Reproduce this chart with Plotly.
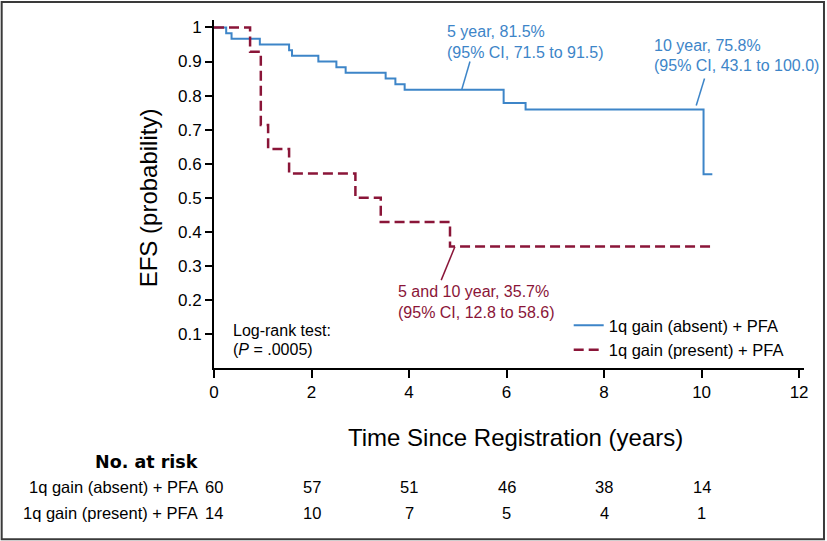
import plotly.graph_objects as go

# ---------------- data ----------------
time_absent = [0, 0.25, 0.36, 0.94, 1.54, 1.60, 2.14, 2.51, 2.70, 3.52, 3.72, 3.91, 5.94, 6.39, 10.04, 10.22]
efs_absent = [1.0, 0.983, 0.967, 0.950, 0.933, 0.917, 0.900, 0.883, 0.867, 0.850, 0.833, 0.817, 0.778, 0.759, 0.569, 0.569]

time_present = [0, 0.74, 0.96, 1.11, 1.54, 2.90, 3.42, 4.84, 10.27]
efs_present = [1.0, 0.929, 0.714, 0.643, 0.571, 0.500, 0.429, 0.357, 0.357]

series_names = ["1q gain (absent) + PFA", "1q gain (present) + PFA"]

risk_times = [0, 2, 4, 6, 8, 10]
risk_absent = [60, 57, 51, 46, 38, 14]
risk_present = [14, 10, 7, 5, 4, 1]

x_ticks = [0, 2, 4, 6, 8, 10, 12]
y_ticks = [0.1, 0.2, 0.3, 0.4, 0.5, 0.6, 0.7, 0.8, 0.9, 1.0]
y_ticklabels = ["0.1", "0.2", "0.3", "0.4", "0.5", "0.6", "0.7", "0.8", "0.9", "1"]

# ---------------- layout constants ----------------
W, H = 827, 541
ML, MR, MT, MB = 214, 22.5, 19.5, 173
PW = W - ML - MR
PH = H - MT - MB
BLUE = "#3d85c8"
RED = "#8a1538"
FONT = "Liberation Sans, Arial, sans-serif"


def fx(X):
    return (X - ML) / PW


def fy(Y):
    return (H - MB - Y) / PH


fig = go.Figure()
fig.add_trace(go.Scatter(x=time_absent, y=efs_absent, mode="lines", line_shape="hv",
                         line=dict(color=BLUE, width=2), name=series_names[0]))
fig.add_trace(go.Scatter(x=time_present, y=efs_present, mode="lines", line_shape="hv",
                         line=dict(color=RED, width=2.5, dash="10px,5px"), name=series_names[1]))

ann = []


def txt(x, y, s, color="black", size=16, xanchor="left", xref="x", yref="y", bold=False, family=FONT, angle=0):
    if bold:
        s = "<b>" + s + "</b>"
    ann.append(dict(x=x, y=y, xref=xref, yref=yref, text=s, showarrow=False,
                    xanchor=xanchor, yanchor="middle", textangle=angle,
                    font=dict(color=color, size=size, family=family)))


# curve annotations
txt(4.73, 0.989, "5 year, 81.5%", BLUE)
txt(4.73, 0.928, "(95% CI, 71.5 to 91.5)", BLUE)
txt(8.99, 0.947, "10 year, 75.8%", BLUE)
txt(8.99, 0.889, "(95% CI, 43.1 to 100.0)", BLUE)
txt(3.74, 0.224, "5 and 10 year, 35.7%", RED)
txt(3.74, 0.163, "(95% CI, 12.8 to 58.6)", RED)
txt(0.35, 0.111, "Log-rank test:", "black")
txt(0.35, 0.053, "(<i>P</i> = .0005)", "black")

# axis titles
txt(fx(515.5), fy(438), "Time Since Registration (years)", size=24, xanchor="center", xref="paper", yref="paper")
txt(fx(148), fy(198), "EFS (probability)", size=24, xanchor="center", xref="paper", yref="paper", angle=-90)

# number at risk table
txt(fx(200), fy(461.7), "No. at risk", size=17.5, xanchor="right", xref="paper", yref="paper", bold=True,
    family="DejaVu Sans, Liberation Sans, sans-serif")
txt(fx(200), fy(486.7), series_names[0], size=16.5, xanchor="right", xref="paper", yref="paper")
txt(fx(200), fy(513.3), series_names[1], size=16.5, xanchor="right", xref="paper", yref="paper")
for t, a, p in zip(risk_times, risk_absent, risk_present):
    txt(t, fy(486.7), str(a), size=16.5, xanchor="center", yref="paper")
    txt(t, fy(513.3), str(p), size=16.5, xanchor="center", yref="paper")

shapes = [
    dict(type="line", xref="x", yref="y", x0=5.08, y0=0.817, x1=5.25, y1=0.90, line=dict(color=BLUE, width=1.5)),
    dict(type="line", xref="x", yref="y", x0=9.89, y0=0.771, x1=10.06, y1=0.85, line=dict(color=BLUE, width=1.5)),
    dict(type="line", xref="x", yref="y", x0=4.66, y0=0.258, x1=4.94, y1=0.356, line=dict(color=RED, width=1.5)),
    dict(type="rect", xref="paper", yref="paper", x0=fx(1.5), x1=fx(824.5), y0=fy(539.5), y1=fy(1.5),
         line=dict(color="#3a3a3a", width=2)),
]

fig.update_layout(
    width=W, height=H,
    margin=dict(l=ML, r=MR, t=MT, b=MB, pad=0),
    paper_bgcolor="white", plot_bgcolor="white",
    font=dict(family=FONT, color="black", size=16),
    annotations=ann, shapes=shapes,
    showlegend=True,
    legend=dict(x=fx(569), y=fy(308), xanchor="left", yanchor="top", bgcolor="rgba(0,0,0,0)",
                font=dict(size=16.5, family=FONT), tracegroupgap=0),
)
fig.update_xaxes(range=[0, 12.1], tickvals=x_ticks, ticks="outside", ticklen=8, tickwidth=1.5,
                 showline=True, linecolor="black", linewidth=2, showgrid=False, zeroline=False,
                 tickfont=dict(size=17, family=FONT), tickcolor="black")
fig.update_yaxes(range=[0, 1.022], tickvals=y_ticks, ticktext=y_ticklabels, ticks="outside", ticklen=7,
                 tickwidth=1.5, showline=True, linecolor="black", linewidth=2, showgrid=False, zeroline=False,
                 tickfont=dict(size=17, family=FONT), tickcolor="black")

fig.write_html("out.html", config={"displayModeBar": False},
               post_script="document.body.style.margin='0';document.body.style.overflow='hidden';")
